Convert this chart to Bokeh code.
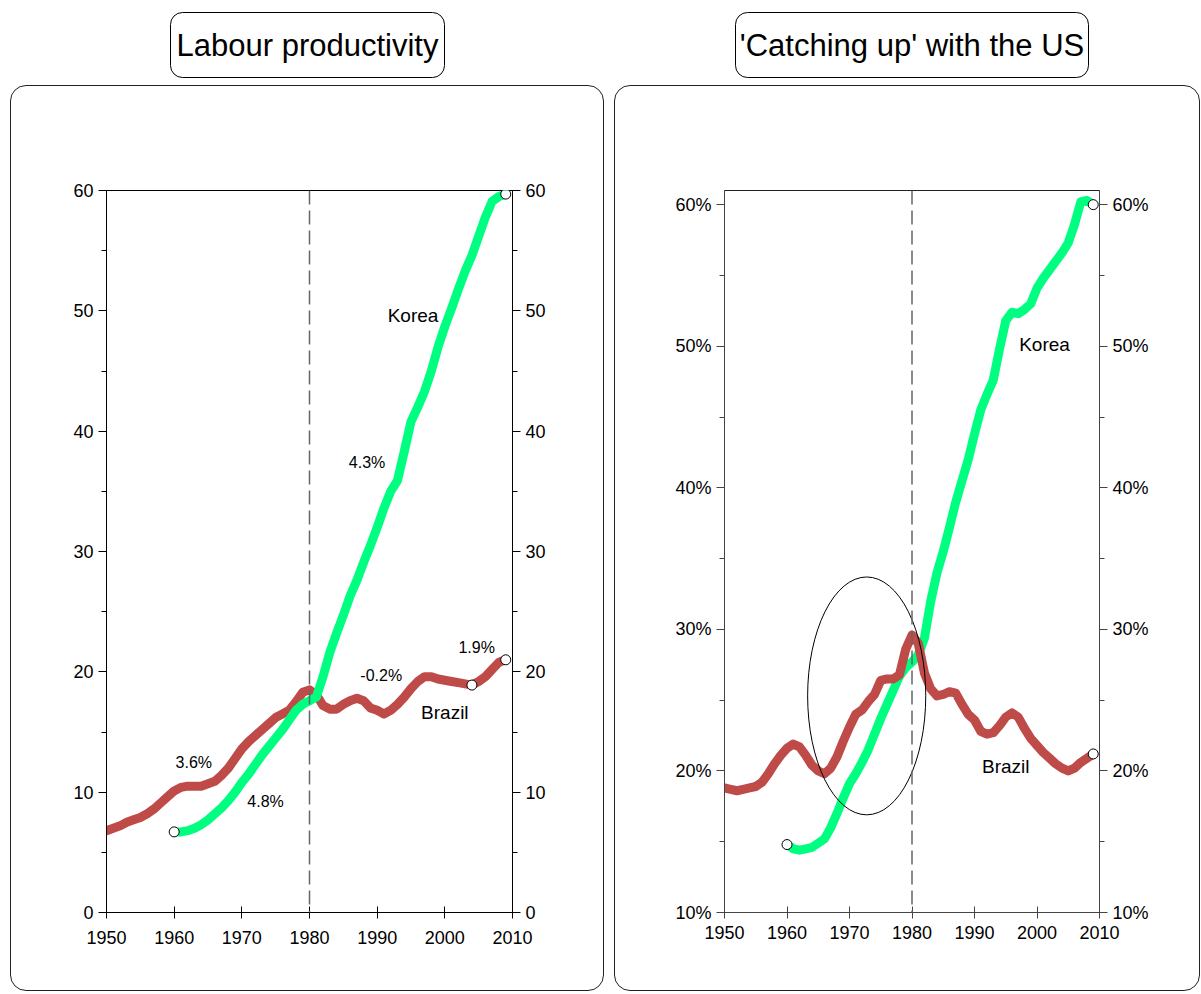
from bokeh.plotting import figure
from bokeh.models import (Range1d, LinearAxis, FixedTicker, Span, Label,
                          BoxAnnotation, PrintfTickFormatter, Spacer)
from bokeh.layouts import column, row
from bokeh.embed import file_html
from bokeh.resources import INLINE

# ---------------- data ----------------
years_brazil = list(range(1950, 2010))
years_korea = list(range(1960, 2010))

brazil_lp = [6.8, 7.0, 7.2, 7.5, 7.7, 7.9, 8.2, 8.6, 9.1, 9.6,
             10.1, 10.4, 10.5, 10.5, 10.5, 10.7, 10.9, 11.4, 12.0, 12.8,
             13.6, 14.2, 14.7, 15.2, 15.7, 16.2, 16.5, 16.8, 17.5, 18.3,
             18.5, 18.1, 17.2, 16.9, 16.9, 17.3, 17.6, 17.8, 17.6, 17.0,
             16.8, 16.5, 16.8, 17.3, 17.9, 18.6, 19.2, 19.6, 19.6, 19.4,
             19.3, 19.2, 19.1, 19.0, 18.9, 19.2, 19.6, 20.2, 20.8, 21.0]

korea_lp = [6.7, 6.7, 6.8, 7.0, 7.3, 7.7, 8.2, 8.7, 9.3, 10.0,
            10.8, 11.5, 12.3, 13.1, 13.8, 14.5, 15.2, 16.0, 16.8, 17.3,
            17.6, 17.9, 19.6, 21.6, 23.2, 24.7, 26.3, 27.6, 29.1, 30.5,
            32.0, 33.6, 35.0, 35.9, 38.3, 40.8, 42.0, 43.3, 45.0, 47.0,
            48.7, 50.2, 51.8, 53.3, 54.6, 56.2, 57.8, 59.1, 59.5, 59.7]

brazil_pct = [18.8, 18.7, 18.6, 18.7, 18.8, 18.9, 19.2, 19.8, 20.5, 21.1,
              21.6, 21.9, 21.7, 21.1, 20.4, 20.0, 19.8, 20.2, 21.0, 22.1,
              23.1, 24.0, 24.3, 24.9, 25.4, 26.4, 26.5, 26.5, 26.8, 28.6,
              29.6, 29.0, 26.9, 25.8, 25.3, 25.4, 25.6, 25.5, 24.7, 24.0,
              23.6, 22.8, 22.6, 22.7, 23.2, 23.8, 24.1, 23.8, 23.0, 22.3,
              21.8, 21.3, 20.9, 20.5, 20.2, 20.0, 20.2, 20.6, 20.9, 21.2]

korea_pct = [14.8, 14.5, 14.4, 14.5, 14.6, 14.9, 15.2, 16.0, 17.0, 18.1,
             19.1, 19.8, 20.6, 21.5, 22.6, 23.7, 24.7, 25.7, 26.7, 27.3,
             27.7, 28.2, 29.4, 32.0, 34.0, 35.5, 37.2, 39.0, 40.5, 42.0,
             43.8, 45.5, 46.6, 47.6, 49.8, 51.8, 52.4, 52.3, 52.6, 53.0,
             54.1, 54.8, 55.4, 56.0, 56.6, 57.3, 58.6, 60.2, 60.3, 60.0]

x_ticks = [1950, 1960, 1970, 1980, 1990, 2000, 2010]
lp_ticks = [0, 10, 20, 30, 40, 50, 60]
lp_minor = [5, 15, 25, 35, 45, 55]
pct_ticks = [10, 20, 30, 40, 50, 60]
pct_minor = [15, 25, 35, 45, 55]

titles = ["Labour productivity", "'Catching up' with the US"]
subtitles = ["US$ PPP (2009) thousands", "Labour productivity as % of US LP"]
growth_labels = ["3.6%", "4.8%", "4.3%", "-0.2%", "1.9%"]

KOREA = "#00FF80"
BRAZIL = "#BE4B48"
FONT = "Liberation Sans, Arial, sans-serif"

# ---------------- header with boxed titles ----------------
hdr = figure(width=1200, height=85, x_range=Range1d(0, 1200), y_range=Range1d(85, 0),
             toolbar_location=None, output_backend="svg", min_border=0,
             x_axis_location=None, y_axis_location=None)
hdr.grid.visible = False
hdr.outline_line_color = None
hdr.background_fill_color = None
hdr.border_fill_color = None
for (l, r), t in zip([(170, 444), (735, 1088)], titles):
    hdr.add_layout(BoxAnnotation(left=l, right=r, top=12, bottom=77, fill_color="white",
                                 fill_alpha=1, line_color="black", line_alpha=1,
                                 line_width=1, border_radius=12))
    hdr.add_layout(Label(x=(l + r) / 2, y=45, text=t, text_align="center",
                         text_baseline="middle", text_font=FONT,
                         text_font_size="31px", text_color="black"))


def style_panel(p):
    p.grid.visible = False
    p.outline_line_color = "black"
    p.border_fill_color = None
    p.background_fill_color = "white"
    p.styles = {"border": "1px solid #222222", "border-radius": "16px", "overflow": "hidden"}


def style_axis(ax, color, size="18px"):
    ax.axis_line_color = color
    ax.major_tick_line_color = color
    ax.minor_tick_line_color = color
    ax.major_label_text_font = FONT
    ax.major_label_text_font_size = size
    ax.major_label_text_color = "black"


def lab(p, x, y, t, size="16px", align="center"):
    p.add_layout(Label(x=x, y=y, text=t, text_align=align, text_baseline="middle",
                       text_font=FONT, text_font_size=size, text_color="black"))


# ---------------- left panel ----------------
pl = figure(width=594, height=906, x_range=Range1d(1950, 2010), y_range=Range1d(0, 60),
            toolbar_location=None, output_backend="svg",
            min_border_left=95, min_border_right=93, min_border_top=104, min_border_bottom=80)
style_panel(pl)
pl.add_layout(LinearAxis(), "right")
for ax in pl.yaxis:
    ax.ticker = FixedTicker(ticks=lp_ticks, minor_ticks=lp_minor)
    style_axis(ax, "black")
    ax.major_tick_out = 8
    ax.major_tick_in = 0
    ax.minor_tick_out = 5
    ax.minor_tick_in = 0
    ax.major_label_standoff = 5
for ax in pl.xaxis:
    ax.ticker = FixedTicker(ticks=x_ticks, minor_ticks=[])
    style_axis(ax, "black")
    ax.major_tick_out = 6
    ax.major_tick_in = 6
    ax.major_label_standoff = 12

pl.add_layout(Span(location=1980, dimension="height", line_color="#666666",
                   line_dash="14 6", line_width=1.5))
pl.line(years_brazil, brazil_lp, line_color=BRAZIL, line_width=9, line_cap="round", line_join="round")
pl.line(years_korea, korea_lp, line_color=KOREA, line_width=9, line_cap="round", line_join="round")
pl.scatter([years_korea[0], years_korea[-1], years_brazil[-6], years_brazil[-1]],
           [korea_lp[0], korea_lp[-1], brazil_lp[-6], brazil_lp[-1]],
           size=10, fill_color="white", line_color="black", line_width=1)

lab(pl, 1950.5, 62.4, subtitles[0], "17px", "left")
lab(pl, 1995.3, 49.6, "Korea", "19px")
lab(pl, 2000.0, 16.6, "Brazil", "19px")
lab(pl, 1962.9, 12.5, growth_labels[0])
lab(pl, 1973.5, 9.2, growth_labels[1])
lab(pl, 1988.5, 37.4, growth_labels[2])
lab(pl, 1990.6, 19.7, growth_labels[3])
lab(pl, 2004.7, 22.0, growth_labels[4])

# ---------------- right panel ----------------
pr = figure(width=586, height=906, x_range=Range1d(1950, 2010), y_range=Range1d(10, 61),
            toolbar_location=None, output_backend="svg",
            min_border_left=109, min_border_right=102, min_border_top=103, min_border_bottom=79)
style_panel(pr)
pr.add_layout(LinearAxis(), "right")
for ax in pr.yaxis:
    ax.ticker = FixedTicker(ticks=pct_ticks, minor_ticks=pct_minor)
    ax.formatter = PrintfTickFormatter(format="%d%%")
    style_axis(ax, "#444444")
    ax.major_tick_out = 8
    ax.major_tick_in = 0
    ax.minor_tick_out = 5
    ax.minor_tick_in = 0
    ax.major_label_standoff = 5
for ax in pr.xaxis:
    ax.ticker = FixedTicker(ticks=x_ticks, minor_ticks=[])
    style_axis(ax, "#444444")
    ax.major_tick_out = 6
    ax.major_tick_in = 6
    ax.major_label_standoff = 7
pr.outline_line_color = "#222222"

pr.add_layout(Span(location=1980, dimension="height", line_color="#666666",
                   line_dash="14 6", line_width=1.5))
pr.line(years_korea, korea_pct, line_color=KOREA, line_width=9, line_cap="round", line_join="round")
pr.line(years_brazil, brazil_pct, line_color=BRAZIL, line_width=9, line_cap="round", line_join="round")
pr.scatter([years_korea[0], years_korea[-1], years_brazil[-1]],
           [korea_pct[0], korea_pct[-1], brazil_pct[-1]],
           size=10, fill_color="white", line_color="black", line_width=1)
pr.ellipse(x=[1972.75], y=[25.3], width=[18.9], height=[16.8], fill_color=None,
           line_color="black", line_width=1)

lab(pr, 1950.7, 62.98, subtitles[1], "17px", "left")
lab(pr, 2001.2, 50.15, "Korea", "19px")
lab(pr, 1995.0, 20.3, "Brazil", "19px")

layout = column(hdr, row(Spacer(width=10), pl, Spacer(width=10), pr))
open("out.html", "w").write(file_html(layout, INLINE))
